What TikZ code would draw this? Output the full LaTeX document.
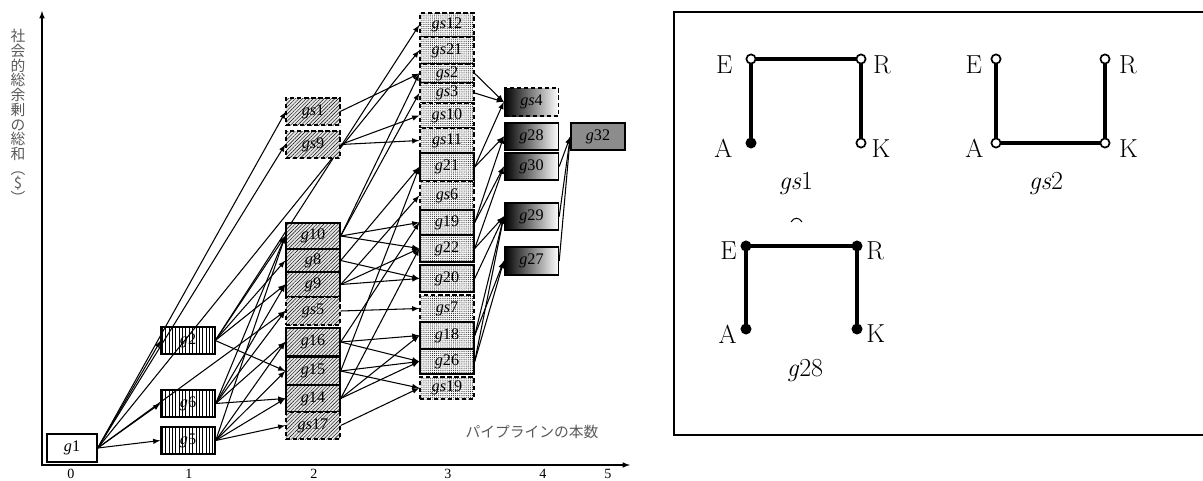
\documentclass[tikz,border=0pt]{standalone}
\usepackage{fontspec}
\usepackage{tikz}
\usetikzlibrary{arrows,positioning,patterns,patterns.meta,backgrounds}
\newfontfamily\tms{Liberation Serif}
\newfontfamily\jp{Noto Sans CJK JP}

\tikzset{
  gbox/.style={draw,line width=1pt,inner sep=0pt,minimum width=1.35cm,font=\tms\fontsize{11.5}{12}\selectfont},
  bh/.style={minimum height=#1*0.025cm},
  gdash/.style={dash pattern=on 3pt off 2pt},
  lvone/.style={gbox,pattern={Lines[angle=90,distance=2.4pt,line width=0.3pt]}},
  lvtwo/.style={gbox,preaction={fill=gray!20},pattern={Lines[angle=45,distance=1.8pt,line width=0.3pt]}},
  lvthree/.style={gbox,preaction={fill=gray!8},pattern={Dots[distance=1.5pt,radius=0.35pt]}},
  lvfour/.style={gbox,left color=black,right color=white},
  link/.style={draw,->,>=latex,line width=0.75pt},
  joint/.style={circle,draw,line width=1.2pt,inner sep=0pt,minimum size=0.23cm},
  jopen/.style={joint,fill=white},
  jshut/.style={joint,fill=black},
  pipe/.style={line width=2.6pt},
  lbl/.style={inner sep=0pt,font=\fontsize{18.5}{20}\selectfont},
  tick/.style={inner sep=0pt,anchor=north,font=\tms\fontsize{10}{11}\selectfont},
  jlab/.style={inner sep=0pt,text=black!65,font=\jp\fontsize{10.5}{10.45}\selectfont},
}

\begin{document}
\begin{tikzpicture}[x=0.025cm,y=-0.025cm]
	\useasboundingbox (0,0) rectangle (1203,480);

	% axes
	\coordinate (o) at (42,465);
	\coordinate (ytip) at (42,11);
	\coordinate (xtip) at (630,465);
	\draw[<->,>=latex,line width=0.8pt] (ytip) -- (o) -- (xtip);
	\node[tick] (t0) at (71,469) {0};
	\node[tick] (t1) at (189,469) {1};
	\node[tick] (t2) at (314,469) {2};
	\node[tick] (t3) at (448,469) {3};
	\node[tick] (t4) at (543,469) {4};
	\node[tick] (t5) at (608,469) {5};
	\node[jlab,align=center] (ylab) at (18,116.5) {社\\会\\的\\総\\余\\剰\\の\\総\\和\\︵\\\$\\︶};
	\node[jlab] (xlab) at (532,432) {パイプラインの本数};

	% number of pipelines 0 and 1
	\node[gbox,bh=28,minimum width=1.25cm,fill=white] (g1) at (72,448) {\textit{g}1};
	\node[lvone,bh=27] (g2) at (188,340.5) {\textit{g}2};
	\node[lvone,bh=27] (g6) at (188,403.5) {\textit{g}6};
	\node[lvone,bh=27] (g5) at (188,440.5) {\textit{g}5};

	% 2 pipelines
	\node[lvtwo,gdash,bh=27] (gs1) at (313,111.5) {\textit{gs}1};
	\node[lvtwo,gdash,bh=27] (gs9) at (313,144.5) {\textit{gs}9};
	\node[lvtwo,bh=26] (g10) at (313,236) {\textit{g}10};
	\node[lvtwo,bh=23] (g8) at (313,260.5) {\textit{g}8};
	\node[lvtwo,bh=25] (g9) at (313,284.5) {\textit{g}9};
	\node[lvtwo,gdash,bh=28] (gs5) at (313,311) {\textit{gs}5};
	\node[lvtwo,bh=28] (g16) at (313,342) {\textit{g}16};
	\node[lvtwo,bh=28] (g15) at (313,371) {\textit{g}15};
	\node[lvtwo,bh=27] (g14) at (313,398.5) {\textit{g}14};
	\node[lvtwo,gdash,bh=27] (gs17) at (313,425.5) {\textit{gs}17};

	% 3 pipelines
	\node[lvthree,gdash,bh=24] (gs12) at (447,25) {\textit{gs}12};
	\node[lvthree,gdash,bh=27] (gs21) at (447,50.5) {\textit{gs}21};
	\node[lvthree,gdash,bh=19] (gs2) at (447,73.5) {\textit{gs}2};
	\node[lvthree,gdash,bh=20] (gs3) at (447,93) {\textit{gs}3};
	\node[lvthree,gdash,bh=25] (gs10) at (447,115.5) {\textit{gs}10};
	\node[lvthree,gdash,bh=25] (gs11) at (447,140.5) {\textit{gs}11};
	\node[lvthree,bh=28] (g21) at (447,167) {\textit{g}21};
	\node[lvthree,gdash,bh=29] (gs6) at (447,195.5) {\textit{gs}6};
	\node[lvthree,bh=25] (g19) at (447,222.5) {\textit{g}19};
	\node[lvthree,bh=27] (g22) at (447,248.5) {\textit{g}22};
	\node[lvthree,bh=27] (g20) at (447,278.5) {\textit{g}20};
	\node[lvthree,gdash,bh=27] (gs7) at (447,308.5) {\textit{gs}7};
	\node[lvthree,bh=27] (g18) at (447,335.5) {\textit{g}18};
	\node[lvthree,bh=25] (g26) at (447,361.5) {\textit{g}26};
	\node[lvthree,gdash,bh=22] (gs19) at (447,388) {\textit{gs}19};

	% 4 and 5 pipelines
	\node[lvfour,gdash,bh=28] (gs4) at (531.5,102) {\textit{gs}4};
	\node[lvfour,bh=27] (g28) at (531.5,136.5) {\textit{g}28};
	\node[lvfour,bh=27] (g30) at (531.5,166.5) {\textit{g}30};
	\node[lvfour,bh=27] (g29) at (531.5,216.5) {\textit{g}29};
	\node[lvfour,bh=28] (g27) at (531.5,261) {\textit{g}27};
	\node[gbox,bh=27,fill=black!45] (g32) at (598,136.5) {\textit{g}32};

	\begin{scope}[on background layer]
		\path (g1.east) edge[link] (g2.west) edge[link] (g6.west) edge[link] (g5.west) edge[link] (gs1.west) edge[link] (gs9.west) edge[link] (gs5.west) edge[link] (gs21.west);
		\path (g2.east) edge[link] (g10.west) edge[link] (g8.west) edge[link] (g9.west) edge[link] (g15.west) edge[link] (gs12.west);
		\path (g6.east) edge[link] (g10.west) edge[link] (g9.west) edge[link] (gs5.west) edge[link] (g16.west) edge[link] (g14.west);
		\path (g5.east) edge[link] (g10.west) edge[link] (g16.west) edge[link] (g15.west) edge[link] (g14.west) edge[link] (gs17.west);

		\path (gs1.east) edge[link] (gs2.west);
		\path (gs9.east) edge[link] (gs10.west) edge[link] (gs11.west);
		\path (g10.east) edge[link] (gs2.west) edge[link] (gs3.west) edge[link] (g19.west) edge[link] (g22.west);
		\path (g8.east) edge[link] (g21.west) edge[link] (g20.west);
		\path (g9.east) edge[link] (gs6.west) edge[link] (g22.west) edge[link] (g20.west);
		\path (gs5.east) edge[link] (gs7.west);
		\path (g16.east) edge[link] (g19.west) edge[link] (g18.west) edge[link] (g26.west);
		\path (g15.east) edge[link] (g21.west) edge[link] (g26.west) edge[link] (gs19.west);
		\path (g14.east) edge[link] (g22.west) edge[link] (g18.west) edge[link] (g26.west);
		\path (gs17.east) edge[link] (gs19.west);

		\path (gs2.east) edge[link] (gs4.west);
		\path (gs3.east) edge[link] (gs4.west);
		\path (g21.east) edge[link] (gs4.west) edge[link] (g28.west);
		\path (g19.east) edge[link] (g28.west) edge[link] (g30.west);
		\path (g22.east) edge[link] (g30.west) edge[link] (g29.west);
		\path (g20.east) edge[link] (g29.west);
		\path (g18.east) edge[link] (g29.west) edge[link] (g27.west);
		\path (g26.east) edge[link] (g29.west) edge[link] (g27.west);

		\path (g30.east) edge[link] (g32.west);
		\path (g29.east) edge[link] (g32.west);
		\path (g27.east) edge[link] (g32.west);
	\end{scope}

	% network sketches
	\draw[line width=1pt] (674,12) rectangle (1215,435);

	\node[jopen] (aE) at (751,59) {};
	\node[jopen] (aR) at (861,59) {};
	\node[jshut] (aA) at (751,143) {};
	\node[jopen] (aK) at (861,143) {};
	\draw[pipe] (aA) -- (aE) -- (aR) -- (aK);
	\node[lbl,left=0.32cm of aE,yshift=-0.15cm] (aEl) {E};
	\node[lbl,right=0.16cm of aR,yshift=-0.15cm] (aRl) {R};
	\node[lbl,left=0.32cm of aA,yshift=-0.14cm] (aAl) {A};
	\node[lbl,right=0.12cm of aK,yshift=-0.14cm] (aKl) {K};
	\node[lbl] (aT) at (796,184) {\textit{gs}1};

	\node[jopen] (bE) at (996,59) {};
	\node[jopen] (bR) at (1105,59) {};
	\node[jopen] (bA) at (996,143) {};
	\node[jopen] (bK) at (1105,143) {};
	\draw[pipe] (bE) -- (bA) -- (bK) -- (bR);
	\node[lbl,left=0.21cm of bE,yshift=-0.15cm] (bEl) {E};
	\node[lbl,right=0.21cm of bR,yshift=-0.15cm] (bRl) {R};
	\node[lbl,left=0.17cm of bA,yshift=-0.14cm] (bAl) {A};
	\node[lbl,right=0.21cm of bK,yshift=-0.14cm] (bKl) {K};
	\node[lbl] (bT) at (1046,184) {\textit{gs}2};

	\draw[line width=0.7pt] (791,222) .. controls (794,217) and (799,217) .. (802,222);

	\node[jshut] (cE) at (746,246) {};
	\node[jshut] (cR) at (857,246) {};
	\node[jshut] (cA) at (746,329) {};
	\node[jshut] (cK) at (857,329) {};
	\draw[pipe] (cA) -- (cE) -- (cR) -- (cK);
	\node[lbl,left=0.09cm of cE,yshift=-0.12cm] (cEl) {E};
	\node[lbl,right=0.09cm of cR,yshift=-0.12cm] (cRl) {R};
	\node[lbl,left=0.09cm of cA,yshift=-0.12cm] (cAl) {A};
	\node[lbl,right=0.09cm of cK,yshift=-0.12cm] (cKl) {K};
	\node[lbl] (cT) at (805,371) {\textit{g}28};
\end{tikzpicture}
\end{document}
